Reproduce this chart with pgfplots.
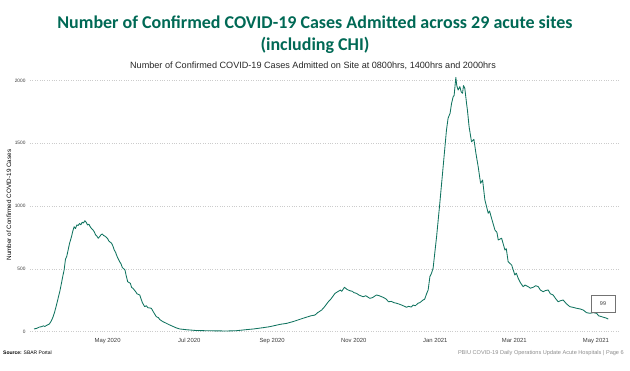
\documentclass[border=0pt]{standalone}
\usepackage{fontspec}
\setmainfont{Liberation Sans}
\newfontfamily\titlefont{Carlito}
\usepackage{pgfplots}
\pgfplotsset{compat=1.18}
\definecolor{titlegreen}{RGB}{0,105,85}
\definecolor{linegreen}{RGB}{16,115,95}
\definecolor{ticktext}{RGB}{60,60,60}
\begin{document}
\begin{tikzpicture}
\useasboundingbox (0,0) rectangle (630pt,371pt);
\node[font=\titlefont\bfseries\fontsize{18}{20}\selectfont, text=titlegreen] at (315pt,349pt) {Number of Confirmed COVID-19 Cases Admitted across 29 acute sites};
\node[font=\titlefont\bfseries\fontsize{18}{20}\selectfont, text=titlegreen] at (315pt,326pt) {(including CHI)};
\node[font=\fontsize{9.1}{10}\selectfont, text=black!85] at (313pt,305pt) {Number of Confirmed COVID-19 Cases Admitted on Site at 0800hrs, 1400hrs and 2000hrs};
\node[font=\fontsize{5}{6}\selectfont, anchor=west, inner sep=0pt] at (3pt,18pt) {\textbf{Source:} SBAR Portal};
\node[font=\fontsize{5.6}{6}\selectfont, anchor=east, inner sep=0pt, text=black!45] at (624pt,18pt) {PBIU COVID-19 Daily Operations Update Acute Hospitals | Page 6};
\begin{axis}[
  at={(30pt,37pt)}, anchor=south west,
  scale only axis, width=590pt, height=261pt,
  xmin=3, xmax=444, ymin=-20, ymax=2060,
  axis line style={draw=none},
  major tick length=0pt,
  xtick={61,122,184,245,306,365,426},
  xticklabels={May 2020,Jul 2020,Sep 2020,Nov 2020,Jan 2021,Mar 2021,May 2021},
  ytick={0,500,1000,1500,2000},
  ymajorgrids, grid style={dotted, black!20, line width=0.45pt},
  /pgf/number format/assume math mode=true,
  /pgf/number format/set thousands separator={},
  xticklabel style={font=\fontsize{5.9}{6}\selectfont, text=ticktext, yshift=-1pt},
  yticklabel style={font=\fontsize{4.8}{5}\selectfont, text=ticktext, xshift=-1pt},
  ylabel={Number of Confirmed COVID-19 Cases},
  ylabel style={at={(axis description cs:-0.036,0.494)}, rotate=0, anchor=center, font=\fontsize{6.3}{7}\selectfont},
  clip=false,
]
\addplot[linegreen, line width=0.85pt, line join=round] coordinates {
(6,20) (8,25) (10,35) (11.5,38) (13,45) (14,40) (16,52) (17.5,60) (19,86) (20,110) (21.5,158) (23,220) (24,264) (25.5,330) (26.5,384) (27.5,440) (28.5,490) (29.5,575) (30.5,600) (31.5,649) (32.5,700) (34,755) (35,800) (36,835) (37,820) (38,849) (39,845) (40,860) (41,850) (42,870) (43,865) (44,883) (45,870) (46,849) (47,855) (48,835) (49,820) (50,810) (51,795) (52,770) (53,760) (54,743) (55,755) (56,770) (57,777) (58,765) (59,760) (60,751) (61,740) (62,720) (64,703) (65,680) (66,649) (67,630) (68,600) (70,556) (71,540) (72,510) (74,490) (75,440) (76,397) (77,390) (78,384) (79,350) (80,344) (81,330) (82,317) (83,300) (85,291) (86,260) (87,230) (88.7,198) (90,205) (91,190) (93.7,185) (95,160) (97.4,118) (99,110) (100,95) (102.4,78) (104,70) (107.4,52) (110,40) (112,30) (115,20) (120,14) (127,8) (135,6) (142,5) (150,4) (157,6) (165,15) (170,20) (177,30) (182,38) (185,45) (190,57) (195,65) (200,80) (207,105) (210,115) (213,125) (216,131) (218,150) (221,171) (223,195) (226,237) (228,260) (231,304) (233,317) (235,330) (236,320) (238,352) (240,335) (242,325) (244,320) (245,310) (247,304) (249,290) (252,277) (254,285) (257,264) (259,270) (262,291) (264,285) (267,272) (269,260) (271,237) (273,240) (275,230) (277,225) (279,218) (282,205) (284.4,193) (286,200) (288,195) (289.4,211) (291,205) (293,225) (294.4,230) (296.8,251) (298,257) (299.4,300) (300.6,331) (301.9,437) (303.1,464) (304.3,504) (306.9,755) (309.3,1021) (311.8,1313) (314.3,1606) (315.5,1699) (317,1740) (318.1,1818) (319.3,1871) (320,1880) (321.3,2025) (322,1960) (323,1924) (324.3,1951) (325.3,1910) (326.3,1898) (327,1960) (328,1938) (329.3,1818) (330,1760) (331.2,1632) (333,1512) (334.8,1531) (336.3,1420) (338,1313) (338.7,1260) (339.8,1181) (341.3,1207) (343,1048) (345.5,942) (346.5,960) (348,902) (350.5,809) (352,790) (353,729) (355.5,743) (358,649) (359,660) (360.4,556) (363,530) (365.4,450) (366.5,465) (367.9,424) (369.5,390) (371.6,357) (373,370) (375.4,357) (377,345) (379.1,352) (381,365) (382.9,357) (384.5,330) (386.6,317) (388,325) (390.3,331) (392,300) (394,291) (396,260) (397.8,237) (399.5,245) (401.5,251) (404,220) (406.5,198) (409,192) (411.5,185) (414,180) (416.5,171) (419,150) (421.5,145) (424,150) (426.5,145) (428,125) (430.3,118) (432,112) (433.5,108) (435.2,99)
};
\node[draw=black!55, fill=white, line width=0.4pt, minimum width=24pt, minimum height=17pt, inner sep=0pt, font=\fontsize{5.5}{6}\selectfont, text=black!75] at (axis cs:431.3,223) {99};
\end{axis}
\end{tikzpicture}
\end{document}
